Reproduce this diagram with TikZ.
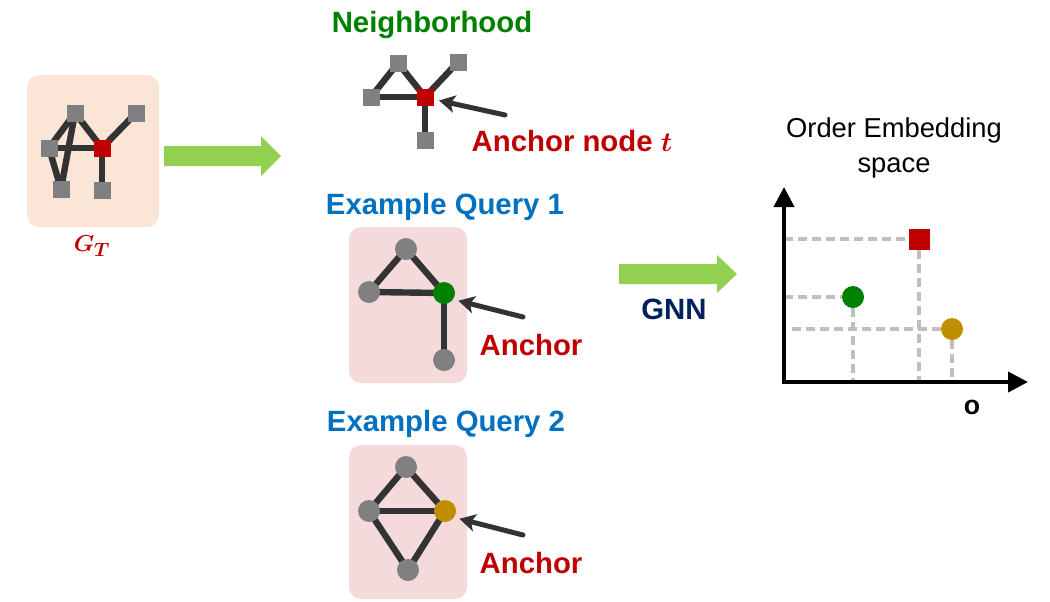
\documentclass[tikz,border=0pt]{standalone}
\usepackage{fontspec}
\usepackage{amsmath}
\setmainfont{Liberation Sans}
\usetikzlibrary{arrows.meta}
\definecolor{edgegray}{RGB}{51,51,51}
\definecolor{nodegray}{RGB}{128,128,128}
\definecolor{ancred}{RGB}{192,0,0}
\definecolor{ancgreen}{RGB}{0,128,0}
\definecolor{ancgold}{RGB}{191,143,0}
\definecolor{txtblue}{RGB}{0,112,192}
\definecolor{txtnavy}{RGB}{0,32,96}
\definecolor{arrowgreen}{RGB}{146,208,80}
\definecolor{peach}{RGB}{251,229,214}
\definecolor{pinkbox}{RGB}{245,218,220}
\definecolor{dashgray}{RGB}{191,191,191}
\pgfdeclarelayer{bg}
\pgfdeclarelayer{edges}
\pgfsetlayers{bg,edges,main}
\begin{document}
\begin{tikzpicture}[x=0.75pt,y=-0.75pt,
  sq/.style={rectangle, fill=nodegray, minimum size=12.75pt, inner sep=0pt},
  redsq/.style={sq, fill=ancred},
  cir/.style={circle, fill=nodegray, minimum size=16.5pt, inner sep=0pt},
  gedge/.style={draw=edgegray, line width=4.8pt},
  pointer/.style={draw=edgegray, line width=3.75pt, line cap=round,
    -{Stealth[length=12pt, width=13pt, inset=3pt]}, shorten >=4pt},
  bigtxt/.style={font=\bfseries\fontsize{22}{26}\selectfont, inner sep=0pt},
  dashline/.style={draw=dashgray, line width=3pt, dash pattern=on 6.75pt off 3.75pt},
  axis/.style={draw=black, line width=3pt, -{Triangle[length=15pt, width=15pt]}},
  roundbox/.style={rounded corners=9pt}
]
\useasboundingbox (0,0) rectangle (1050,601);

\begin{pgfonlayer}{bg}
  \fill[peach, roundbox] (27,75) rectangle (159,227);
  \fill[pinkbox, roundbox] (349,227) rectangle (467,383);
  \fill[pinkbox, roundbox] (349,445) rectangle (467,599);
\end{pgfonlayer}

% ---------- G_T ----------
\node[sq] (g1) at (75,113) {};
\node[sq] (g2) at (136,113) {};
\node[sq] (g3) at (49,148) {};
\node[redsq] (g4) at (102,148) {};
\node[sq] (g5) at (61,189) {};
\node[sq] (g6) at (102,190) {};
\begin{pgfonlayer}{edges}
  \draw[gedge] (g1.center) -- (g3.center);
  \draw[gedge] (g1.center) -- (g4.center);
  \draw[gedge] (g1.center) -- (g5.center);
  \draw[gedge] (g3.center) -- (g4.center);
  \draw[gedge] (g3.center) -- (g5.center);
  \draw[gedge] (g4.center) -- (g2.center);
  \draw[gedge] (g4.center) -- (g6.center);
\end{pgfonlayer}
\node[font=\fontsize{19}{23}\selectfont, text=ancred, inner sep=0pt] (gt) at (92,246) {$\boldsymbol{G_T}$};

% green arrow 1
\fill[arrowgreen] (164,146) -- (261,146) -- (261,136) -- (281,156) -- (261,176) -- (261,166) -- (164,166) -- cycle;

% ---------- Neighborhood ----------
\node[bigtxt, text=ancgreen] (nbh) at (432,25) {Neighborhood};
\node[sq] (n1) at (398,63) {};
\node[sq] (n2) at (458,62) {};
\node[sq] (n3) at (371,97) {};
\node[redsq] (n4) at (425,97) {};
\node[sq] (n5) at (425,140) {};
\begin{pgfonlayer}{edges}
  \draw[gedge] (n3.center) -- (n1.center);
  \draw[gedge] (n1.center) -- (n4.center);
  \draw[gedge] (n3.center) -- (n4.center);
  \draw[gedge] (n4.center) -- (n2.center);
  \draw[gedge] (n4.center) -- (n5.center);
\end{pgfonlayer}
\coordinate (np) at (505,115);
\draw[pointer] (np) -- (n4.-15);
\node[bigtxt, text=ancred] (nlab) at (572,141) {Anchor node $\boldsymbol{t}$};

% ---------- Query 1 ----------
\node[bigtxt, text=txtblue] (q1lab) at (445,207) {Example Query 1};
\node[cir] (a1) at (406,249) {};
\node[cir] (a2) at (369,292) {};
\node[cir, fill=ancgreen] (a3) at (444,293) {};
\node[cir] (a4) at (444,360) {};
\begin{pgfonlayer}{edges}
  \draw[gedge] (a1.center) -- (a2.center);
  \draw[gedge] (a1.center) -- (a3.center);
  \draw[gedge] (a2.center) -- (a3.center);
  \draw[gedge] (a3.center) -- (a4.center);
\end{pgfonlayer}
\coordinate (q1p) at (523,317);
\draw[pointer] (q1p) -- (a3.-35);
\node[bigtxt, text=ancred] (q1anc) at (531,345) {Anchor};

% ---------- Query 2 ----------
\node[bigtxt, text=txtblue] (q2lab) at (446,424) {Example Query 2};
\node[cir] (b1) at (406,467) {};
\node[cir] (b2) at (369,511) {};
\node[cir, fill=ancgold] (b3) at (445,511) {};
\node[cir] (b4) at (408,570) {};
\begin{pgfonlayer}{edges}
  \draw[gedge] (b1.center) -- (b2.center);
  \draw[gedge] (b1.center) -- (b3.center);
  \draw[gedge] (b2.center) -- (b3.center);
  \draw[gedge] (b2.center) -- (b4.center);
  \draw[gedge] (b3.center) -- (b4.center);
\end{pgfonlayer}
\coordinate (q2p) at (523,535);
\draw[pointer] (q2p) -- (b3.-35);
\node[bigtxt, text=ancred] (q2anc) at (531,563) {Anchor};

% ---------- GNN arrow ----------
\fill[arrowgreen] (619,264) -- (717,264) -- (717,255) -- (737,274) -- (717,293) -- (717,284) -- (619,284) -- cycle;
\node[bigtxt, text=txtnavy] (gnn) at (674,309) {GNN};

% ---------- Order embedding ----------
\node[font=\fontsize{20.5}{26}\selectfont, align=center, inner sep=0pt] (oes) at (894,148) {Order Embedding\\space};
\coordinate (O) at (784,382);
\coordinate (ytip) at (784,187);
\coordinate (xtip) at (1028,382);
\node[rectangle, fill=ancred, minimum size=15.75pt, inner sep=0pt] (pr) at (919,239) {};
\node[circle, fill=ancgreen, minimum size=16.5pt, inner sep=0pt] (pg) at (853,297) {};
\node[circle, fill=ancgold, minimum size=16.5pt, inner sep=0pt] (py) at (952,329) {};
\begin{pgfonlayer}{edges}
  \draw[dashline] (O |- pr) -- (pr);
  \draw[dashline] (pr) -- (pr |- O);
  \draw[dashline] (O |- pg) -- (pg);
  \draw[dashline] (pg) -- (pg |- O);
  \draw[dashline] ([xshift=6pt]O |- py) -- (py);
  \draw[dashline] (py) -- (py |- O);
\end{pgfonlayer}
\draw[axis] (O) -- (ytip);
\draw[axis] ([xshift=-1.5pt]O) -- (xtip);
\node[font=\bfseries\fontsize{20}{24}\selectfont, inner sep=0pt] (olab) at (972,407) {o};
\end{tikzpicture}
\end{document}
